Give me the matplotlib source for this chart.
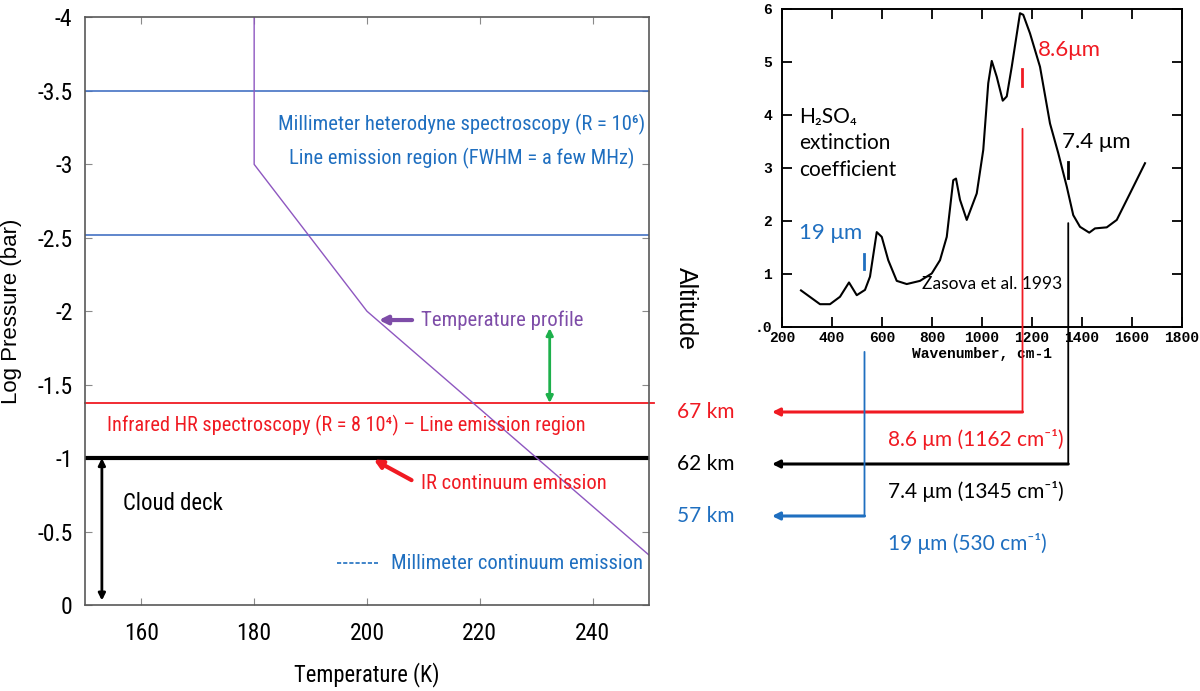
import matplotlib
matplotlib.use('Agg')
import matplotlib.pyplot as plt
from matplotlib import font_manager
from matplotlib.patches import ConnectionPatch

# fonts: condensed look for the left panel, Calibri-like for the annotations
fonts = font_manager.fontManager.ttflist


def has(name, stretch=None):
    return any(f.name == name and (stretch is None or str(f.stretch) == stretch) for f in fonts)


NARROW = dict(family=['Liberation Sans', 'DejaVu Sans'], stretch='normal')
for name, st in [('Liberation Sans Narrow', None), ('Roboto Condensed', None),
                 ('Open Sans Condensed', None), ('Noto Sans', 'condensed'),
                 ('Open Sans', 'condensed'), ('DejaVu Sans', 'condensed')]:
    if has(name, st):
        NARROW = dict(family=[name, 'DejaVu Sans'], stretch=st or 'normal')
        break
SANS = ['Lato', 'DejaVu Sans']
ARIAL = ['Liberation Sans', 'DejaVu Sans']
MONO = ['Liberation Mono', 'DejaVu Sans Mono']

BLUE_LINE = '#4472C4'
BLUE = '#1F6FC0'
RED = '#F01A22'
PURPLE = '#7E4DA8'
GREEN = '#1DB04B'

# ---- data ----
# temperature profile (K vs log pressure)
profile_T = [180, 180, 200, 250]
profile_logp = [-4, -3, -2, -0.34]
mm_levels = [-3.5, -2.52]
ir_level = -1.375
cloud_top = -1.0

temp_ticks = [160, 180, 200, 220, 240]
logp_ticks = [0, -0.5, -1, -1.5, -2, -2.5, -3, -3.5, -4]
logp_labels = ['0', '-0.5', '-1', '-1.5', '-2', '-2.5', '-3', '-3.5', '-4']

# H2SO4 extinction coefficient (Zasova et al. 1993)
wavenumber = [276, 352, 392, 432, 468, 499, 532, 552, 579, 599, 625, 659, 699, 752, 799,
              832, 859, 885, 896, 912, 939, 979, 1005, 1025, 1039, 1059, 1083, 1099, 1119,
              1152, 1165, 1192, 1232, 1272, 1305, 1339, 1365, 1392, 1429, 1452, 1499, 1539,
              1592, 1652]
extinction = [0.69, 0.43, 0.43, 0.57, 0.84, 0.60, 0.70, 0.95, 1.79, 1.70, 1.26, 0.87, 0.81,
              0.87, 1.01, 1.26, 1.70, 2.77, 2.80, 2.40, 2.02, 2.52, 3.34, 4.60, 5.02, 4.72,
              4.27, 4.35, 4.91, 5.92, 5.89, 5.54, 4.91, 3.84, 3.28, 2.65, 2.11, 1.89, 1.78,
              1.86, 1.88, 2.02, 2.52, 3.09]
wn_ticks = [200, 400, 600, 800, 1000, 1200, 1400, 1600, 1800]
ext_ticks = [0, 1, 2, 3, 4, 5, 6]
ext_labels = ['.0', '1', '2', '3', '4', '5', '6']

# sounding bands
band_wn = [1162, 1345, 530]
band_alt = [67, 62, 57]
band_short = ['8.6μm', '7.4 μm', '19 μm']
band_long = ['8.6 μm (1162 cm⁻¹)', '7.4 μm (1345 cm⁻¹)', '19 μm (530 cm⁻¹)']
band_colors = [RED, 'black', BLUE]
band_mark = [(4.55, 4.87), (2.81, 3.11), (1.09, 1.38)]
band_lead_top = [3.74, 1.96, -0.47]
band_short_pos = [(1224, 5.23), (1320, 3.49), (268, 1.77)]

fig = plt.figure(figsize=(12, 6.91), dpi=100, facecolor='white')
rend = fig.canvas.get_renderer()


def fit(t, width_px):
    # scale a text so it spans the same width as in the original figure
    w = t.get_window_extent(rend).width
    t.set_fontsize(t.get_fontsize() * width_px / w)
    return t


# ---- left: temperature profile ----
ax = fig.add_axes([0.0708, 0.1245, 0.47, 0.8502])
ax.set_xlim(150, 250)
ax.set_ylim(0, -4)
for lv in mm_levels:
    ax.axhline(lv, color=BLUE_LINE, lw=1.2)
ax.plot([150, 250.9], [ir_level, ir_level], color=RED, lw=1.3, clip_on=False)
ax.axhline(cloud_top, color='black', lw=3)
ax.plot(profile_T, profile_logp, color='#8E57C0', lw=1)

ax.set_xticks(temp_ticks)
ax.set_yticks(logp_ticks)
ax.set_yticklabels(logp_labels)
ax.tick_params(direction='in', length=5, color='#8a8a8a', labelsize=17, top=True, right=True)
ax.tick_params(axis='x', pad=12)
ax.tick_params(axis='y', pad=9)
for lab in ax.get_xticklabels() + ax.get_yticklabels():
    lab.set_family(NARROW['family'])
    lab.set_stretch(NARROW['stretch'])
for sp in ax.spines.values():
    sp.set_color('#595959')
    sp.set_linewidth(1.2)
xl = ax.set_xlabel('Temperature (K)', fontfamily=NARROW['family'],
                   fontstretch=NARROW['stretch'], fontsize=17)
fit(xl, 145)
ax.xaxis.set_label_coords(0.5, -0.098)
ax.set_ylabel('Log Pressure (bar)', family=ARIAL, fontsize=16)
ax.yaxis.set_label_coords(-0.112, 0.5)

txt = dict(fontfamily=NARROW['family'], fontstretch=NARROW['stretch'], fontsize=15,
           va='center')
fit(ax.text(216.8, -3.27, 'Millimeter heterodyne spectroscopy (R = 10⁶)', color=BLUE,
            ha='center', **txt), 368)
fit(ax.text(216.8, -3.04, 'Line emission region (FWHM = a few MHz)', color=BLUE,
            ha='center', **txt), 345)
fit(ax.text(209.5, -1.94, 'Temperature profile', color=PURPLE, ha='left', **txt), 162)
ax.annotate('', xy=(202.1, -1.94), xytext=(208, -1.94),
            arrowprops=dict(arrowstyle='-|>', color=PURPLE, lw=3, mutation_scale=12,
                            shrinkA=0, shrinkB=0))
ax.annotate('', xy=(232.4, ir_level), xytext=(232.4, -1.885),
            arrowprops=dict(arrowstyle='<|-|>', color=GREEN, lw=2, mutation_scale=10,
                            shrinkA=0, shrinkB=0))
fit(ax.text(196.4, -1.22, 'Infrared HR spectroscopy (R = 8 10⁴) – Line emission region',
            color=RED, ha='center', **txt), 478)
fit(ax.text(209.5, -0.83, 'IR continuum emission', color=RED, ha='left', **txt), 186)
ax.annotate('', xy=(201.2, -0.99), xytext=(207.9, -0.85),
            arrowprops=dict(arrowstyle='-|>', color=RED, lw=3, mutation_scale=12,
                            shrinkA=0, shrinkB=0))
fit(ax.text(156.7, -0.69, 'Cloud deck', color='black', ha='left', **txt), 100)
ax.annotate('', xy=(153, -0.03), xytext=(153, cloud_top),
            arrowprops=dict(arrowstyle='<|-|>', color='black', lw=2, mutation_scale=10,
                            shrinkA=0, shrinkB=0))
ax.plot([194.7, 202], [-0.283, -0.283], color=BLUE, lw=1.2, ls=(0, (2.5, 1.2)))
fit(ax.text(204.3, -0.283, 'Millimeter continuum emission', color=BLUE, ha='left', **txt),
    252)

fig.text(686 / 1200, 1 - 309 / 691, 'Altitude', rotation=-90, family=ARIAL, fontsize=18,
         ha='center', va='center')

# ---- right: H2SO4 extinction spectrum ----
axs = fig.add_axes([782 / 1200, 0.5268, 400 / 1200, 0.4602])
axs.plot(wavenumber, extinction, color='black', lw=1.5)
axs.set_xlim(200, 1800)
axs.set_ylim(0, 6)
axs.set_xticks(wn_ticks)
axs.set_yticks(ext_ticks)
axs.set_yticklabels(ext_labels)
axs.tick_params(direction='in', length=7, width=1.3, top=True, right=True, labelsize=10.5)
axs.tick_params(axis='x', pad=3)
axs.tick_params(axis='y', pad=7)
for lab in axs.get_xticklabels() + axs.get_yticklabels():
    lab.set_family(MONO)
    lab.set_weight('bold')
for sp in axs.spines.values():
    sp.set_linewidth(1.4)
axs.set_xlabel('Wavenumber, cm-1', family=MONO, weight='bold', fontsize=10.5, labelpad=1)

axs.text(268, 3.96, 'H₂SO₄', family=SANS, fontsize=15, ha='left', va='center')
axs.text(268, 3.47, 'extinction', family=SANS, fontsize=15, ha='left', va='center')
axs.text(268, 2.96, 'coefficient', family=SANS, fontsize=15, ha='left', va='center')
axs.text(760, 0.81, 'Zasova et al. 1993', family=SANS, fontsize=12.5, ha='left', va='center')

# altitude scale shares the wavenumber axis for the leaders
axa = fig.add_axes([782 / 1200, (691 - 516) / 691, 400 / 1200, 104 / 691])
axa.set_xlim(200, 1800)
axa.set_ylim(57, 67)
axa.axis('off')

for wn, alt, short, long_, c, mk, top, sp in zip(band_wn, band_alt, band_short, band_long,
                                                 band_colors, band_mark, band_lead_top,
                                                 band_short_pos):
    axs.plot([wn, wn], mk, color=c, lw=2)
    axs.text(sp[0], sp[1], short, color=c, family=SANS, fontsize=16, ha='left', va='center')
    con = ConnectionPatch(xyA=(wn, top), coordsA=axs.transData,
                          xyB=(wn, alt), coordsB=axa.transData, color=c, lw=1.3)
    fig.add_artist(con)
    axa.annotate('', xy=(160, alt), xytext=(wn, alt), annotation_clip=False,
                 arrowprops=dict(arrowstyle='-|>', color=c, lw=2.2, mutation_scale=11,
                                 shrinkA=0, shrinkB=0))
    axa.text(-220, alt, f'{alt} km', color=c, family=SANS, fontsize=15, ha='left',
             va='center', clip_on=False)
    axa.text(624, alt - 2.6, long_, color=c, family=SANS, fontsize=15, ha='left',
             va='center', clip_on=False)

fig.savefig('out.png', dpi=100, facecolor='white')
